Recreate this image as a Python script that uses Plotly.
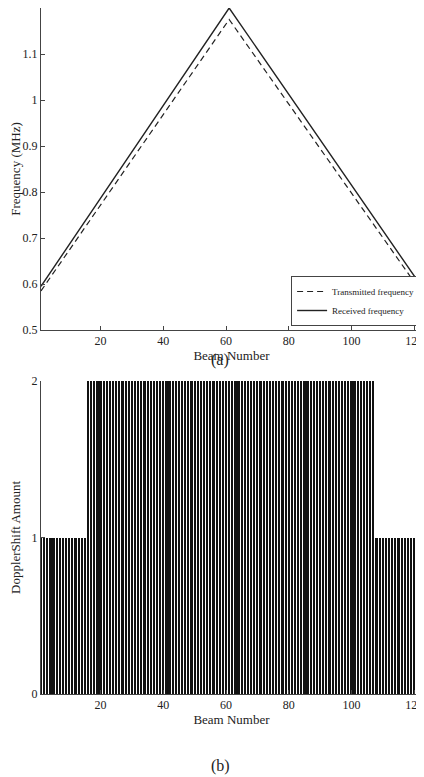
import plotly.graph_objects as go
from plotly.subplots import make_subplots

beam_pts = [1, 61, 122]
transmitted = [0.585, 1.175, 0.585]
received = [0.595, 1.200, 0.598]

beams = list(range(1, 123))
doppler = [1]*15 + [2]*92 + [1]*15

H = 777.0
def d(px):
    return 1 - px / H

font = dict(family="Liberation Serif", size=12, color="#222")
fig = make_subplots(rows=2, cols=1)
fig.add_trace(go.Scatter(x=beam_pts, y=transmitted, mode="lines", name="Transmitted frequency",
                         line=dict(color="#222", width=1.2, dash="6px,4px")), row=1, col=1)
fig.add_trace(go.Scatter(x=beam_pts, y=received, mode="lines", name="Received frequency",
                         line=dict(color="#222", width=1.4)), row=1, col=1)
fig.add_trace(go.Bar(x=beams, y=doppler, width=0.7, marker=dict(color="#111", line=dict(width=0)),
                     showlegend=False), row=2, col=1)

ax = dict(showline=True, linecolor="#444", linewidth=1, mirror=False, ticks="inside", ticklen=4,
          tickcolor="#444", showgrid=False, zeroline=False, tickfont=font)
fig.update_layout(
    width=424, height=777, autosize=False, plot_bgcolor="white", paper_bgcolor="white", font=font,
    margin=dict(l=33, r=10, t=0, b=0, pad=0, autoexpand=False), bargap=0,
    xaxis=dict(ax, domain=[0, 1], range=[1, 122.5], tickvals=[20, 40, 60, 80, 100, 120], mirror=True,
               title=dict(text="Beam Number", font=dict(family="Liberation Serif", size=13), standoff=2)),
    yaxis=dict(ax, domain=[d(322), 1.0], range=[0.5, 1.2], mirror=True,
               tickvals=[0.5, 0.6, 0.7, 0.8, 0.9, 1, 1.1, 1.2],
               ticktext=["0.5", "0.6", "0.7", "0.8", "0.9", "1", "1.1", "1.2"],
               title=dict(text="Frequency (MHz)", font=dict(family="Liberation Serif", size=13), standoff=4)),
    xaxis2=dict(ax, domain=[0, 1], range=[1, 122.5], tickvals=[20, 40, 60, 80, 100, 120],
                title=dict(text="Beam Number", font=dict(family="Liberation Serif", size=13), standoff=2)),
    yaxis2=dict(ax, domain=[d(686), d(373)], range=[0, 2], tickvals=[0, 1, 2],
                title=dict(text="DopplerShift Amount", font=dict(family="Liberation Serif", size=13), standoff=8)),
    legend=dict(x=0.995, y=d(318), xanchor="right", yanchor="bottom", bordercolor="#444", borderwidth=1,
                bgcolor="white", font=dict(family="Liberation Serif", size=9), tracegroupgap=0),
    annotations=[
        dict(text="(a)", x=0.47, y=d(352), xref="paper", yref="paper", showarrow=False,
             yanchor="middle", font=dict(family="Liberation Serif", size=16)),
        dict(text="(b)", x=0.47, y=d(758), xref="paper", yref="paper", showarrow=False,
             yanchor="middle", font=dict(family="Liberation Serif", size=16)),
    ],
)
fig.write_html("out.html")
